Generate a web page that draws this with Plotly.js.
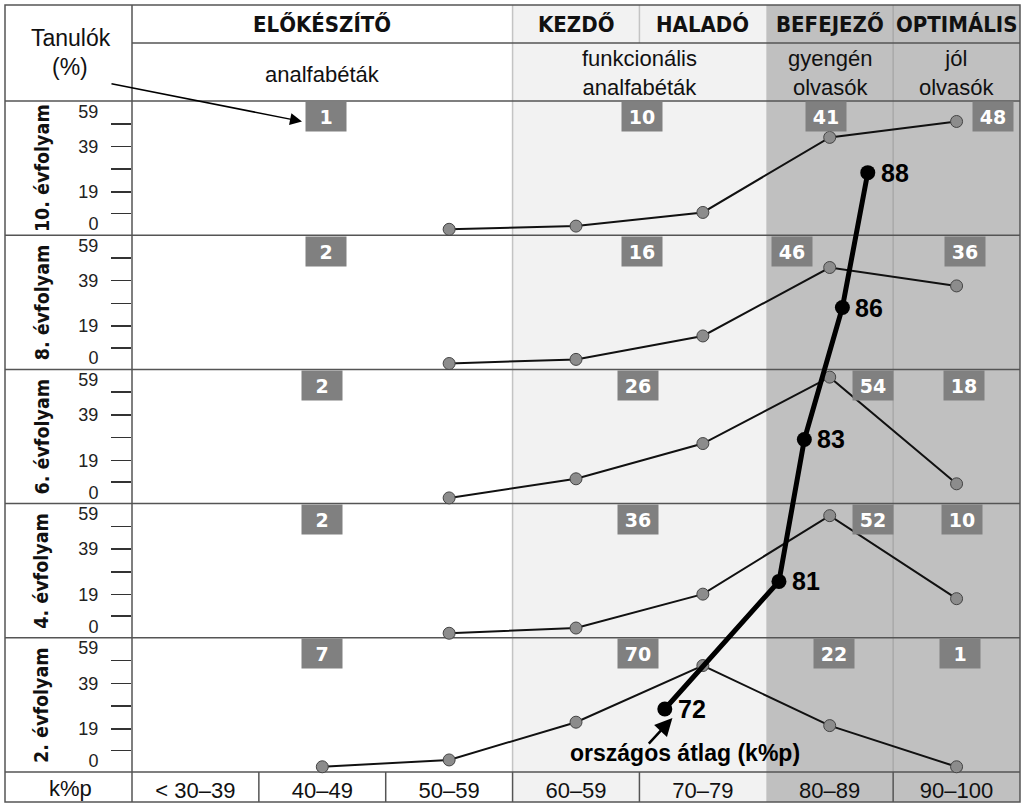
<!DOCTYPE html>
<html><head><meta charset="utf-8">
<script src="https://cdn.plot.ly/plotly-3.0.1.min.js"></script>
<style>html,body{margin:0;padding:0;background:#fff}#chart{width:1027px;height:805px}</style>
</head><body><div id="chart"></div>
<script>
// ---------------- data ----------------
const categories = ['< 30–39', '40–49', '50–59', '60–59', '70–79', '80–89', '90–100'];
const binStart = [30, 40, 50, 60, 70, 80, 90];           // k%p bins (lower edge)
const grades = ['10. évfolyam', '8. évfolyam', '6. évfolyam', '4. évfolyam', '2. évfolyam'];
// share of students (%) in each k%p bin, per grade
const dist10 = [null, null, 2.6, 4, 10, 43, 50];
const dist8  = [null, null, 2.6, 4.4, 14.7, 44.8, 36.7];
const dist6  = [null, null, 2.5, 10.9, 26.4, 55.6, 8.7];
const dist4  = [null, null, 2, 4.3, 19.2, 53.7, 17.2];
const dist2  = [null, 2.3, 5.3, 21.9, 46.8, 20.4, 2.3];
// share of students (%) per level group: ELŐKÉSZÍTŐ, KEZDŐ+HALADÓ, BEFEJEZŐ, OPTIMÁLIS
const level10 = [1, 10, 41, 48];
const level8  = [2, 16, 46, 36];
const level6  = [2, 26, 54, 18];
const level4  = [2, 36, 52, 10];
const level2  = [7, 70, 22, 1];
// national average (k%p) per grade
const nationalAvg = [88, 86, 83, 81, 72];
const levelNames = ['ELŐKÉSZÍTŐ', 'KEZDŐ', 'HALADÓ', 'BEFEJEZŐ', 'OPTIMÁLIS'];
const groupNames = ['analfabéták', 'funkcionális<br>analfabéták', 'gyengén<br>olvasók', 'jól<br>olvasók'];
const yTickVals = [19, 39];
const yEdgeLabels = ['0', '59'];
const yMinorVals = [9.5, 29, 49];

// ---------------- layout helpers (styling / positions) ----------------
const dists = [dist10, dist8, dist6, dist4, dist2];
const levels = [level10, level8, level6, level4, level2];
const avgDotLevel = [27.5, 27.2, 28.2, 24.8, 27.7];     // vertical placement of avg dot in each panel
const boxX = [
  [45.3, 70.2, 84.7, 97.9],
  [45.3, 70.2, 82.0, 95.7],
  [45.0, 69.9, 88.4, 95.6],
  [45.0, 69.9, 88.4, 95.4],
  [45.0, 69.9, 85.3, 95.3]
];
const PANEL = 59;
const nP = grades.length;
const off = i => (nP - 1 - i) * PANEL;
const W = 1027, H = 805;
const fx = p => p / W, fy = p => 1 - p / H;
const G = {left: 5, labelCol: 132, right: 1020, top: 5, row1: 43, head: 101, plotBot: 772, bottom: 802};
const centers = binStart.map(b => b + 5);

const NARROW = "'Liberation Sans Narrow', 'DejaVu Sans Condensed', 'Arial Narrow', 'Liberation Sans', sans-serif";
const ARIAL = "'Liberation Sans', Arial, sans-serif";
const VERD = "'DejaVu Sans', Verdana, sans-serif";

// ---------------- traces ----------------
const traces = [];
dists.forEach((d, i) => {
  traces.push({
    type: 'scatter', mode: 'lines+markers', x: centers,
    y: d.map(v => v == null ? null : v + off(i)),
    line: {color: '#111', width: 2},
    marker: {size: 12, color: '#8c8c8c', line: {color: '#444', width: 1}},
    cliponaxis: false, hoverinfo: 'skip', showlegend: false, yaxis: 'y'
  });
});
traces.push({
  type: 'scatter', mode: 'lines+markers', x: nationalAvg,
  y: avgDotLevel.map((v, i) => v + off(i)),
  line: {color: '#000', width: 5},
  marker: {size: 15, color: '#000'},
  cliponaxis: false, hoverinfo: 'skip', showlegend: false
});
// invisible trace to activate the second y axis (edge labels 0 / 59)
traces.push({type: 'scatter', x: [30], y: [0], yaxis: 'y2', mode: 'markers', marker: {opacity: 0}, hoverinfo: 'skip', showlegend: false});

// ---------------- axes ticks ----------------
const majVals = [], majText = [], minVals = [], edgeVals = [], edgeText = [];
for (let i = 0; i < nP; i++) {
  yTickVals.forEach(v => { majVals.push(v + off(i)); majText.push(String(v)); });
  yMinorVals.forEach(v => minVals.push(v + off(i)));
  edgeVals.push(off(i) + 5); edgeText.push(yEdgeLabels[0]);
  edgeVals.push(off(i) + 54.5); edgeText.push(yEdgeLabels[1]);
}

// ---------------- shapes ----------------
const shapes = [];
const lineCol = '#555';
shapes.push({type: 'rect', layer: 'below', xref: 'x', yref: 'paper', x0: 60, x1: 80, y0: fy(G.bottom), y1: fy(G.top), fillcolor: '#f2f2f2', line: {width: 0}});
shapes.push({type: 'rect', layer: 'below', xref: 'x', yref: 'paper', x0: 80, x1: 100, y0: fy(G.bottom), y1: fy(G.top), fillcolor: '#c0c0c0', line: {width: 0}});
// light vertical separators
shapes.push({type: 'line', layer: 'below', xref: 'x', yref: 'paper', x0: 60, x1: 60, y0: fy(G.plotBot), y1: fy(G.top), line: {color: '#c4c4c4', width: 1.5}});
shapes.push({type: 'line', layer: 'below', xref: 'x', yref: 'paper', x0: 70, x1: 70, y0: fy(G.row1), y1: fy(G.top), line: {color: '#c4c4c4', width: 1.5}});
shapes.push({type: 'line', layer: 'below', xref: 'x', yref: 'paper', x0: 90, x1: 90, y0: fy(G.plotBot), y1: fy(G.top), line: {color: '#a9a9a9', width: 1.5}});
// bottom row dividers
[40, 50, 60, 70, 90].forEach(v => shapes.push({type: 'line', layer: 'below', xref: 'x', yref: 'paper', x0: v, x1: v, y0: fy(G.bottom), y1: fy(G.plotBot), line: {color: lineCol, width: 1.5}}));
// horizontal lines
shapes.push({type: 'line', layer: 'below', xref: 'paper', yref: 'paper', x0: fx(G.labelCol), x1: fx(G.right), y0: fy(G.row1), y1: fy(G.row1), line: {color: lineCol, width: 1.5}});
for (let k = 0; k <= nP; k++) {
  const yy = G.head + k * (G.plotBot - G.head) / nP;
  shapes.push({type: 'line', layer: 'below', xref: 'paper', yref: 'paper', x0: fx(G.left), x1: fx(G.right), y0: fy(yy), y1: fy(yy), line: {color: lineCol, width: 1.5}});
}
shapes.push({type: 'line', layer: 'below', xref: 'paper', yref: 'paper', x0: fx(G.labelCol), x1: fx(G.labelCol), y0: fy(G.bottom), y1: fy(G.top), line: {color: lineCol, width: 1.5}});
shapes.push({type: 'rect', layer: 'below', xref: 'paper', yref: 'paper', x0: fx(G.left), x1: fx(G.right), y0: fy(G.bottom), y1: fy(G.top), line: {color: lineCol, width: 1.5}});

// ---------------- annotations ----------------
const ann = [];
const C = {xanchor: 'center', yanchor: 'middle', showarrow: false};
// header row 1
const lvlX = [45, 65, 75, 85, 95];
levelNames.forEach((t, j) => ann.push(Object.assign({xref: 'x', yref: 'paper', x: lvlX[j], y: fy(24), text: t,
  font: {family: NARROW, size: 22, color: '#111', weight: 'bold'}}, C)));
// header row 2
const grpX = [45, 70, 85, 95];
groupNames.forEach((t, j) => ann.push(Object.assign({xref: 'x', yref: 'paper', x: grpX[j], y: fy(j === 0 ? 75 : 73), text: t,
  font: {family: ARIAL, size: 22, color: '#111'}}, C)));
ann.push(Object.assign({xref: 'paper', yref: 'paper', x: fx(71), y: fy(38), text: 'Tanulók', font: {family: ARIAL, size: 23, color: '#111'}}, C));
ann.push(Object.assign({xref: 'paper', yref: 'paper', x: fx(70), y: fy(67), text: '(%)', font: {family: ARIAL, size: 23, color: '#111'}}, C));
ann.push(Object.assign({xref: 'paper', yref: 'paper', x: fx(70), y: fy(788), text: 'k%p', font: {family: ARIAL, size: 22, color: '#111'}}, C));
// grade labels
grades.forEach((g, i) => ann.push(Object.assign({xref: 'paper', yref: 'y', x: fx(42), y: off(i) + 29.5, text: g, textangle: -90,
  font: {family: NARROW, size: 19.5, color: '#111', weight: 'bold'}}, C)));
// level boxes
levels.forEach((lv, i) => lv.forEach((v, j) => ann.push(Object.assign({xref: 'x', yref: 'y', x: boxX[i][j], y: off(i) + 52, text: String(v),
  bgcolor: '#808080', width: 38, height: 27, borderpad: 1,
  font: {family: VERD, size: 19, color: '#fff', weight: 'bold'}}, C))));
// national average labels
nationalAvg.forEach((v, i) => ann.push({xref: 'x', yref: 'y', x: v, y: avgDotLevel[i] + off(i), text: String(v), xanchor: 'left', yanchor: 'middle', xshift: 11,
  showarrow: false, font: {family: ARIAL, size: 25, color: '#000', weight: 'bold'}}));
// arrow from header to first box
ann.push({xref: 'x', yref: 'y', x: 43.4, y: off(0) + 50, text: '', showarrow: true, ax: -192, ay: -38,
  arrowhead: 2, arrowsize: 1.6, arrowwidth: 1.5, arrowcolor: '#000'});
// national average note
ann.push({xref: 'x', yref: 'y', x: 72.6, y: off(4) + 23.7, text: '', showarrow: true, ax: -25, ay: 27,
  arrowhead: 2, arrowsize: 1.4, arrowwidth: 2.5, arrowcolor: '#000'});
ann.push(Object.assign({xref: 'x', yref: 'y', x: 73.6, y: off(4) + 8.5, text: 'országos átlag (k%p)',
  font: {family: ARIAL, size: 23, color: '#000', weight: 'bold'}}, C));

const layout = {
  width: W, height: H, autosize: false,
  margin: {l: 0, r: 0, t: 0, b: 0, pad: 0},
  paper_bgcolor: '#fff', plot_bgcolor: 'rgba(0,0,0,0)',
  showlegend: false,
  xaxis: {domain: [fx(G.labelCol), fx(G.right)], range: [30, 100], showgrid: false, zeroline: false, showline: false,
    tickmode: 'array', tickvals: centers, ticktext: categories, ticks: '', ticklabelstandoff: 3,
    tickfont: {family: ARIAL, size: 22, color: '#111'}, fixedrange: true},
  yaxis: {domain: [fy(G.plotBot), fy(G.head)], range: [0, PANEL * nP], showgrid: false, zeroline: false, showline: false,
    tickmode: 'array', tickvals: majVals, ticktext: majText, ticks: 'outside', ticklen: 20, tickwidth: 1.5, tickcolor: '#333',
    ticklabelstandoff: 9, tickfont: {family: ARIAL, size: 18, color: '#222'},
    minor: {tickmode: 'array', tickvals: minVals, ticks: 'outside', ticklen: 20, tickwidth: 1.5, tickcolor: '#333', showgrid: false},
    fixedrange: true},
  yaxis2: {overlaying: 'y', anchor: 'x', side: 'left', range: [0, PANEL * nP], showgrid: false, zeroline: false, showline: false,
    tickmode: 'array', tickvals: edgeVals, ticktext: edgeText, ticks: 'outside', ticklen: 20, tickcolor: 'rgba(0,0,0,0)',
    ticklabelstandoff: 9, tickfont: {family: ARIAL, size: 18, color: '#222'}, fixedrange: true},
  shapes: shapes, annotations: ann
};
Plotly.newPlot('chart', traces, layout, {staticPlot: true, displayModeBar: false});
</script></body></html>
